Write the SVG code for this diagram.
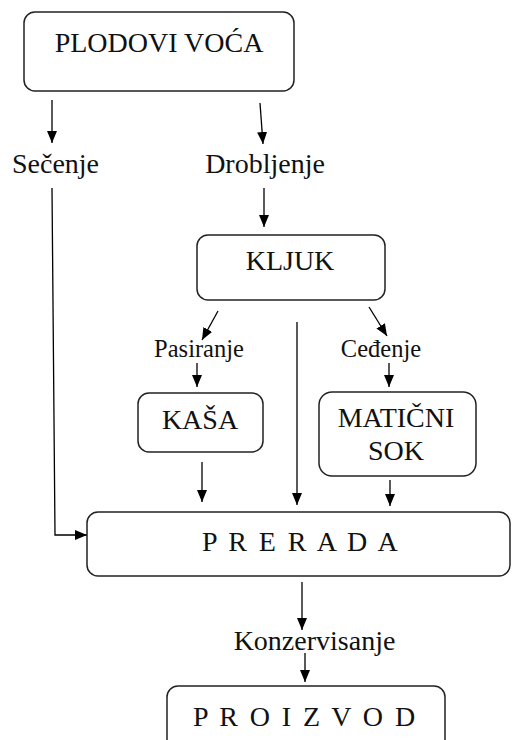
<svg xmlns="http://www.w3.org/2000/svg" width="513" height="740" viewBox="0 0 513 740">
<style>
.box{fill:#fff;stroke:#222;stroke-width:1.5}
.c{stroke:#000;stroke-width:1.3;fill:none}
</style>
<defs>
<marker id="ah" markerUnits="userSpaceOnUse" markerWidth="12" markerHeight="10" refX="12" refY="5" orient="auto">
<path d="M0,0 L12,5 L0,10 z" fill="#000"/>
</marker>
</defs>
<rect width="513" height="740" fill="#fff"/>
<g id="connectors">
<line class="c" x1="52" y1="100" x2="52" y2="143" marker-end="url(#ah)"/>
<line class="c" x1="260" y1="103" x2="263" y2="144" marker-end="url(#ah)"/>
<polyline class="c" points="52,188 55,535 87,535" marker-end="url(#ah)"/>
<line class="c" x1="264" y1="188" x2="264" y2="227" marker-end="url(#ah)"/>
<line class="c" x1="218" y1="311" x2="202" y2="340" marker-end="url(#ah)"/>
<line class="c" x1="297" y1="322" x2="297" y2="505" marker-end="url(#ah)"/>
<line class="c" x1="369" y1="307" x2="387" y2="336" marker-end="url(#ah)"/>
<line class="c" x1="197" y1="363" x2="197" y2="387" marker-end="url(#ah)"/>
<line class="c" x1="389" y1="363" x2="389" y2="387" marker-end="url(#ah)"/>
<line class="c" x1="202" y1="462" x2="202" y2="502" marker-end="url(#ah)"/>
<line class="c" x1="390" y1="480" x2="390" y2="506" marker-end="url(#ah)"/>
<line class="c" x1="302" y1="582" x2="302" y2="630" marker-end="url(#ah)"/>
<line class="c" x1="305" y1="653" x2="305" y2="682" marker-end="url(#ah)"/>
</g>
<g font-family="Liberation Serif, serif" font-size="28" fill="#111">
<g id="plodovi">
<rect class="box" x="24" y="12" width="270" height="79" rx="11"/>
<text x="159" y="52" text-anchor="middle">PLODOVI VOĆA</text>
</g>
<g id="secenje"><text x="55.5" y="173" text-anchor="middle">Sečenje</text></g>
<g id="drobljenje"><text x="265" y="173" text-anchor="middle">Drobljenje</text></g>
<g id="kljuk">
<rect class="box" x="197" y="235" width="188" height="65" rx="11"/>
<text x="290" y="270" text-anchor="middle">KLJUK</text>
</g>
<g id="pasiranje"><text x="199" y="357" text-anchor="middle" font-size="24.5">Pasiranje</text></g>
<g id="cedjenje"><text x="381" y="357" text-anchor="middle" font-size="24.5">Ceđenje</text></g>
<g id="kasa">
<rect class="box" x="138" y="393" width="125" height="59" rx="11"/>
<text x="200" y="429" text-anchor="middle">KAŠA</text>
</g>
<g id="maticni">
<rect class="box" x="319" y="392" width="157" height="84" rx="13"/>
<text x="396" y="427" text-anchor="middle">MATIČNI</text>
<text x="396" y="460" text-anchor="middle">SOK</text>
</g>
<g id="prerada">
<rect class="box" x="87" y="512" width="423" height="64" rx="11"/>
<text x="202" y="551" letter-spacing="2.4">P R E R A D A</text>
</g>
<g id="konzervisanje"><text x="314.5" y="650" text-anchor="middle">Konzervisanje</text></g>
<g id="proizvod">
<rect class="box" x="167" y="686" width="278" height="70" rx="11"/>
<text x="193" y="726" letter-spacing="2.4">P R O I Z V O D</text>
</g>
</g>
</svg>
